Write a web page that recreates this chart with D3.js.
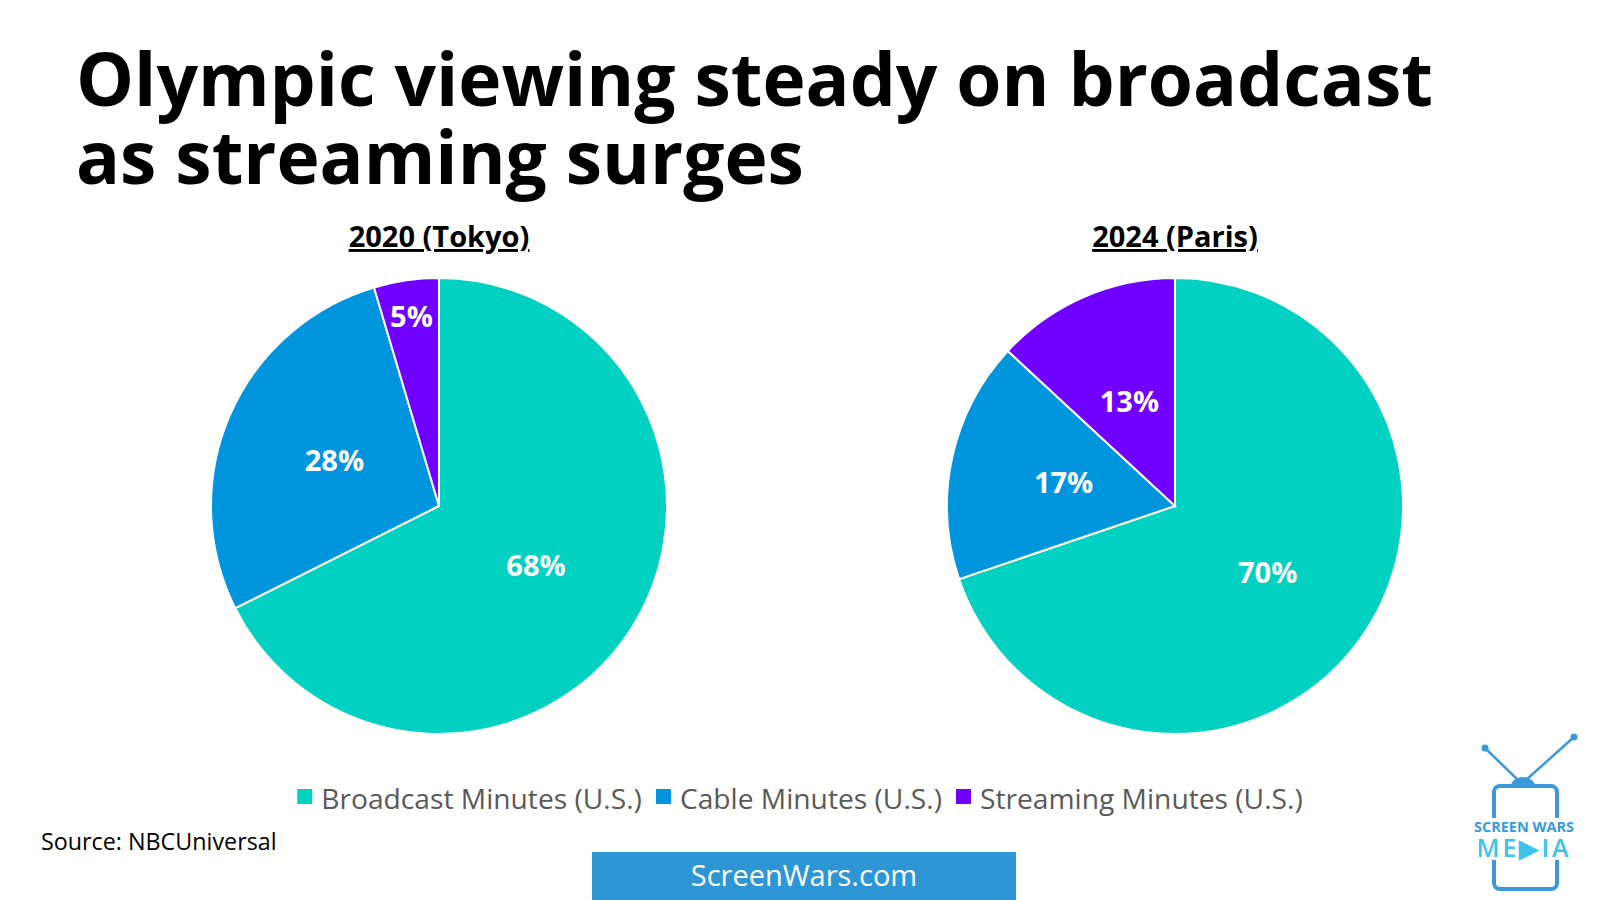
<!DOCTYPE html>
<html>
<head>
<meta charset="utf-8">
<script src="https://cdn.jsdelivr.net/npm/d3@7"></script>
<style>
  body { margin: 0; background: #fff; }
  svg { display: block; font-family: "Open Sans", sans-serif; }
</style>
</head>
<body>
<svg id="chart" width="1600" height="900"></svg>
<script>
var categories = ["Broadcast Minutes (U.S.)", "Cable Minutes (U.S.)", "Streaming Minutes (U.S.)"];
var years = ["2020 (Tokyo)", "2024 (Paris)"];
var tokyo = [67.6, 27.8, 4.6];
var paris = [69.8, 17.1, 13.1];
var colors = ["#00D1C1", "#0095DD", "#7000FF"];

var width = 1600, height = 900;
var radius = 228;
var centers = [439, 1175];
var cy = 506;

var svg = d3.select("#chart");

// title
svg.append("text")
  .attr("x", 76).attr("y", 106)
  .attr("font-size", 73).attr("font-weight", 700).attr("fill", "#000")
  .text("Olympic viewing steady on broadcast");
svg.append("text")
  .attr("x", 76).attr("y", 184)
  .attr("font-size", 73).attr("font-weight", 700).attr("fill", "#000")
  .text("as streaming surges");

var pie = d3.pie().sort(null).value(function(d) { return d; });
var arc = d3.arc().innerRadius(0).outerRadius(radius);

[tokyo, paris].forEach(function(values, k) {
  var g = svg.append("g").attr("transform", "translate(" + centers[k] + "," + cy + ")");

  g.append("text")
    .attr("x", 0).attr("y", -259)
    .attr("text-anchor", "middle")
    .attr("font-size", 29).attr("font-weight", 700)
    .attr("text-decoration", "underline")
    .text(years[k]);

  var slices = pie(values);

  g.selectAll("path")
    .data(slices)
    .enter()
    .append("path")
    .attr("d", arc)
    .attr("fill", function(d, i) { return colors[i]; })
    .attr("stroke", "#fff")
    .attr("stroke-width", 2);

  g.selectAll("text.lbl")
    .data(slices)
    .enter()
    .append("text")
    .attr("class", "lbl")
    .attr("transform", function(d) {
      var share = d.value / d3.sum(values);
      var r = share < 0.08 ? radius * 0.84 : radius * 0.5;
      var c = d3.arc().innerRadius(r).outerRadius(r).centroid(d);
      return "translate(" + c + ")";
    })
    .attr("text-anchor", "middle")
    .attr("dy", "0.36em")
    .attr("font-size", 29).attr("font-weight", 700).attr("fill", "#fff")
    .text(function(d) { return Math.round(d.value / d3.sum(values) * 100) + "%"; });
});

// legend
var legend = svg.append("g");
var items = legend.selectAll("g")
  .data(categories)
  .enter()
  .append("g");
items.append("rect")
  .attr("width", 15).attr("height", 15)
  .attr("y", -12)
  .attr("fill", function(d, i) { return colors[i]; });
items.append("text")
  .attr("x", 24).attr("y", 0)
  .attr("dy", "0.3em")
  .attr("font-size", 28.2).attr("fill", "#595959")
  .text(function(d) { return d; });
var xOff = 0;
items.each(function() {
  var w = this.getBBox().width;
  d3.select(this).attr("transform", "translate(" + xOff + ",0)");
  xOff += w + 14;
});
var totalW = xOff - 14;
legend.attr("transform", "translate(" + (800 - totalW / 2) + ",801)");

// source
svg.append("text")
  .attr("x", 41).attr("y", 850)
  .attr("font-size", 23.3).attr("fill", "#000")
  .text("Source: NBCUniversal");

// site banner
svg.append("rect")
  .attr("x", 592).attr("y", 852).attr("width", 424).attr("height", 48)
  .attr("fill", "#2E96D4");
svg.append("text")
  .attr("x", 804).attr("y", 876).attr("dy", "0.35em")
  .attr("text-anchor", "middle")
  .attr("font-size", 29).attr("fill", "#fff")
  .text("ScreenWars.com");

// logo
var logo = svg.append("g");
var blue = "#3A9AD9";
logo.append("line").attr("x1", 1485).attr("y1", 748).attr("x2", 1518).attr("y2", 780)
  .attr("stroke", blue).attr("stroke-width", 2.5);
logo.append("line").attr("x1", 1574).attr("y1", 737).attr("x2", 1526).attr("y2", 780)
  .attr("stroke", blue).attr("stroke-width", 2.5);
logo.append("circle").attr("cx", 1485).attr("cy", 748).attr("r", 3.5).attr("fill", blue);
logo.append("circle").attr("cx", 1574).attr("cy", 737).attr("r", 3.5).attr("fill", blue);
logo.append("path")
  .attr("d", "M1511,786 A12,9 0 0 1 1535,786 Z")
  .attr("fill", blue);
logo.append("rect")
  .attr("x", 1494).attr("y", 786).attr("width", 63).attr("height", 103).attr("rx", 6)
  .attr("fill", "none").attr("stroke", blue).attr("stroke-width", 4);
logo.append("rect")
  .attr("x", 1460).attr("y", 818).attr("width", 130).attr("height", 42)
  .attr("fill", "#fff");
logo.append("text")
  .attr("x", 1524).attr("y", 832)
  .attr("text-anchor", "middle")
  .attr("font-size", 14.5).attr("font-weight", 700).attr("fill", blue)
  .text("SCREEN WARS");
logo.append("text")
  .attr("x", 1524).attr("y", 857)
  .attr("text-anchor", "middle")
  .attr("font-size", 25).attr("font-weight", 600).attr("fill", "#3CC4E8")
  .attr("letter-spacing", 3)
  .text("ME\u25B6IA");
</script>
</body>
</html>
